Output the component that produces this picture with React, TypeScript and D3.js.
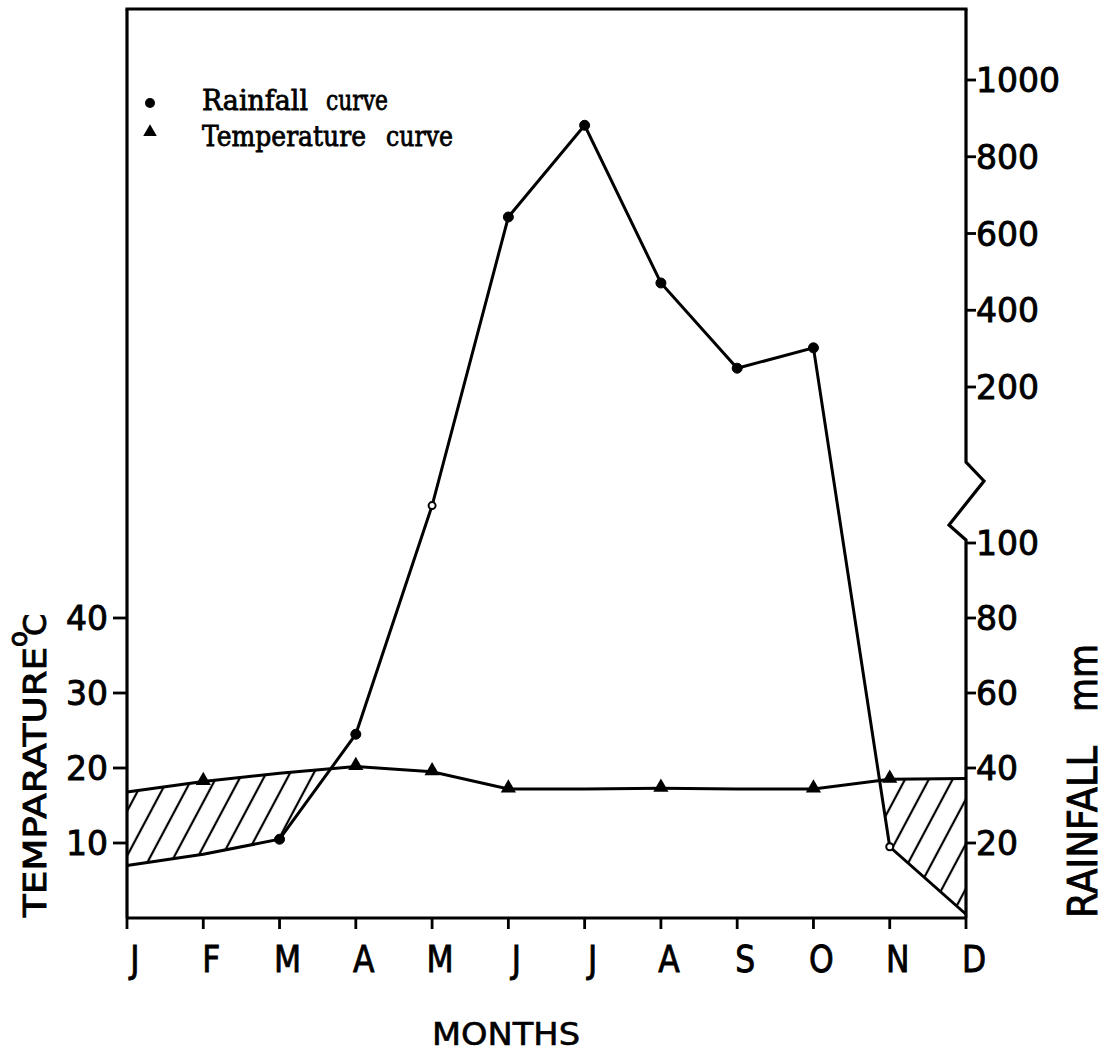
import React from "react";
import * as d3 from "d3";

const months = ["J", "F", "M", "A", "M", "J", "J", "A", "S", "O", "N", "D"];
const rainfall = [14, 17, 21, 49, 124, 643, 882, 471, 249, 302, 19, 1];
const temperature = [16.8, 18.2, 19.3, 20.2, 19.5, 17.2, 17.2, 17.3, 17.2, 17.2, 18.5, 18.6];
const tempTicks = [10, 20, 30, 40];
const rainTicks = [20, 40, 60, 80, 100, 200, 400, 600, 800, 1000];
const rainMarkerMonths = [2, 3, 4, 5, 6, 7, 8, 9, 10];
const openRainMarkers = [4, 10];
const tempMarkerMonths = [1, 3, 4, 5, 7, 9, 10];

const W = 1108;
const H = 1056;
const X0 = 127;
const X1 = 966;
const Y0 = 918;
const YTOP = 9;

export default function App() {
  const x = d3.scaleLinear().domain([0, 11]).range([X0, X1]);
  const yT = d3.scaleLinear().domain([0, 40]).range([Y0, 618]);
  const yR = d3.scaleLinear().domain([0, 100, 200, 1000]).range([Y0, 543, 387, 80]);

  const idx = months.map((_, i) => i);
  const rainLine = d3.line<number>().x((i) => x(i)).y((i) => yR(rainfall[i]))(idx) || "";
  const tempLine = d3.line<number>().x((i) => x(i)).y((i) => yT(temperature[i]))(idx) || "";
  const tempArea =
    d3.area<number>().x((i) => x(i)).y0(Y0).y1((i) => yT(temperature[i]))(idx) || "";
  const aboveRain =
    d3
      .area<number>()
      .x((i) => x(i))
      .y0(0)
      .y1((i) => yR(rainfall[i]))(idx) || "";

  const tri = d3.symbol(d3.symbolTriangle, 100)() || "";
  const legendTri = d3.symbol(d3.symbolTriangle, 80)() || "";
  const ff = "'DejaVu Sans', sans-serif";
  const serif = "'DejaVu Serif', serif";
  const heavy = { stroke: "#000", strokeWidth: 0.9 };

  return (
    <svg
      width={W}
      height={H}
      style={{ position: "absolute", left: 0, top: 0, background: "#fff" }}
    >
      <defs>
        <pattern
          id="hatch"
          patternUnits="userSpaceOnUse"
          width={21}
          height={21}
          patternTransform="rotate(28)"
        >
          <line x1={10} y1={-2} x2={10} y2={23} stroke="#000" strokeWidth={2.2} />
        </pattern>
        <clipPath id="aboveRain">
          <path d={aboveRain} />
        </clipPath>
      </defs>

      {/* hatched deficit zones */}
      <path d={tempArea} fill="url(#hatch)" clipPath="url(#aboveRain)" />

      {/* frame */}
      <g stroke="#000" strokeWidth={3.2} fill="none" strokeLinejoin="miter">
        <line x1={X0} y1={YTOP} x2={X0} y2={Y0} />
        <line x1={X0 - 1.5} y1={YTOP} x2={X1 + 1.5} y2={YTOP} />
        <line x1={X0} y1={Y0} x2={X1} y2={Y0} />
        <polyline
          points={`${X1},${YTOP} ${X1},462 ${X1 + 18},481 ${X1 - 17},525 ${X1},540 ${X1},${Y0}`}
        />
      </g>

      {/* x ticks and labels */}
      <g>
        {months.map((m, i) => (
          <g key={i}>
            <line x1={x(i)} y1={Y0} x2={x(i)} y2={Y0 + 11} stroke="#000" strokeWidth={2.8} />
            <text
              transform={`translate(${x(i) + 8},972) scale(0.85,1)`}
              textAnchor="middle"
              fontFamily={ff}
              fontSize={37}
              {...heavy}
            >
              {m}
            </text>
          </g>
        ))}
      </g>
      <text
        x={432}
        y={1045}
        fontFamily={ff}
        fontSize={32}
        textLength={148}
        lengthAdjust="spacingAndGlyphs"
        {...heavy}
        strokeWidth={0.6}
      >
        MONTHS
      </text>

      {/* left axis */}
      <g>
        {tempTicks.map((t) => (
          <g key={t}>
            <line x1={X0 - 14} y1={yT(t)} x2={X0} y2={yT(t)} stroke="#000" strokeWidth={2.8} />
            <text
              x={108}
              y={yT(t) + 12}
              textAnchor="end"
              fontFamily={ff}
              fontSize={33}
              {...heavy}
            >
              {t}
            </text>
          </g>
        ))}
      </g>
      <text
        transform="translate(46,917) rotate(-90)"
        fontFamily={ff}
        fontSize={32}
        {...heavy}
      >
        <tspan textLength={270} lengthAdjust="spacingAndGlyphs">TEMPARATURE</tspan>
        <tspan dy={-19} fontSize={26}>o</tspan>
        <tspan dx={-5} dy={19}>C</tspan>
      </text>

      {/* right axis */}
      <g>
        {rainTicks.map((r) => (
          <g key={r}>
            <line x1={X1} y1={yR(r)} x2={X1 + 10} y2={yR(r)} stroke="#000" strokeWidth={2.8} />
            <text x={X1 + 10} y={yR(r) + 12} fontFamily={ff} fontSize={33} {...heavy}>
              {r}
            </text>
          </g>
        ))}
      </g>
      <text
        transform="translate(1097,918) rotate(-90)"
        fontFamily={ff}
        fontSize={40}
        textLength={172}
        lengthAdjust="spacingAndGlyphs"
        {...heavy}
      >
        RAINFALL
      </text>
      <text
        transform="translate(1097,712) rotate(-90)"
        fontFamily={ff}
        fontSize={40}
        textLength={68}
        lengthAdjust="spacingAndGlyphs"
        {...heavy}
      >
        mm
      </text>

      {/* curves */}
      <path d={tempLine} fill="none" stroke="#000" strokeWidth={3} />
      <path d={rainLine} fill="none" stroke="#000" strokeWidth={3} />

      {rainMarkerMonths.map((i) => {
        const open = openRainMarkers.includes(i);
        return (
          <circle
            key={"r" + i}
            cx={x(i)}
            cy={yR(rainfall[i])}
            r={open ? 3.5 : 5}
            fill={open ? "#fff" : "#000"}
            stroke="#000"
            strokeWidth={open ? 2 : 1}
          />
        );
      })}
      {tempMarkerMonths.map((i) => (
        <path
          key={"t" + i}
          d={tri}
          transform={`translate(${x(i)},${yT(temperature[i]) - 1})`}
          fill="#000"
        />
      ))}

      {/* legend */}
      <circle cx={150} cy={103} r={5} fill="#000" />
      <path d={legendTri} transform="translate(150,132)" fill="#000" />
      <g fontFamily={serif} fontSize={27} stroke="#000" strokeWidth={0.8}>
        <text x={202} y={110}>
          <tspan x={202} textLength={106} lengthAdjust="spacingAndGlyphs">Rainfall</tspan>
          <tspan x={326} textLength={62} lengthAdjust="spacingAndGlyphs">curve</tspan>
        </text>
        <text x={202} y={146}>
          <tspan x={202} textLength={164} lengthAdjust="spacingAndGlyphs">Temperature</tspan>
          <tspan x={386} textLength={67} lengthAdjust="spacingAndGlyphs">curve</tspan>
        </text>
      </g>
    </svg>
  );
}
